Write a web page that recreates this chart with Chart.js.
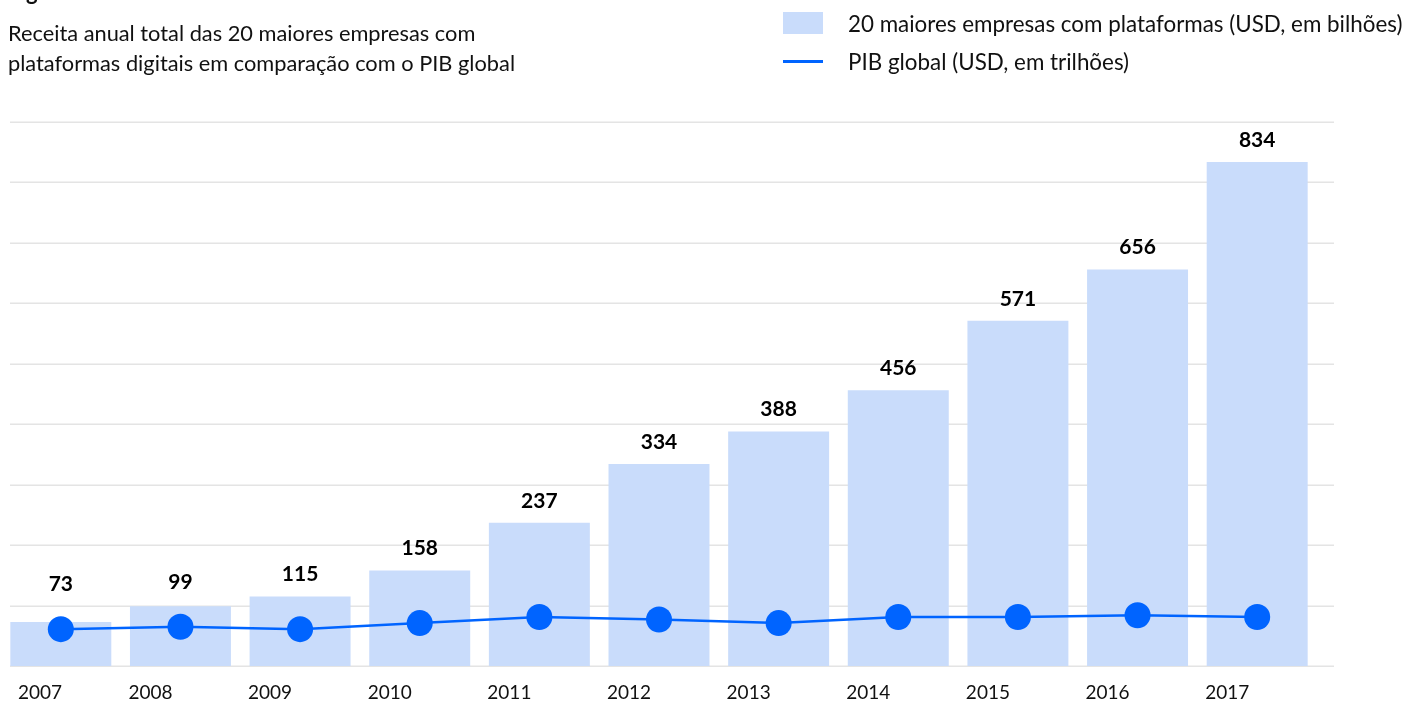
<!DOCTYPE html>
<html lang="pt">
<head>
<meta charset="utf-8">
<title>Receita das 20 maiores empresas com plataformas digitais vs PIB global</title>
<script src="https://cdn.jsdelivr.net/npm/chart.js@4.4.1/dist/chart.umd.min.js"></script>
<style>
  html, body { margin: 0; padding: 0; background: #fff; }
  body { width: 1423px; height: 702px; position: relative; overflow: hidden; font-family: Lato, "Open Sans", sans-serif; color: #111; }
  #wrap { position: absolute; left: 0; top: 0; width: 1423px; height: 702px; }
  #fig { position: absolute; left: 8px; top: -20px; font-weight: bold; font-size: 22px; line-height: 24px; white-space: nowrap; }
  #sub { position: absolute; left: 8px; top: 18px; font-size: 21.8px; line-height: 30px; white-space: nowrap; }
  #legend { position: absolute; left: 783px; top: 4px; font-size: 22.4px; }
  .li { display: flex; align-items: center; height: 38px; white-space: nowrap; }
  .sw { width: 40px; margin-right: 25px; }
</style>
</head>
<body>
<div id="wrap"><canvas id="c" width="1423" height="702"></canvas></div>
<div id="fig">Figura 1</div>
<div id="sub">Receita anual total das 20 maiores empresas com<br>plataformas digitais em comparação com o PIB global</div>
<div id="legend"></div>
<script>
// Years on the horizontal axis
const years = ['2007','2008','2009','2010','2011','2012','2013','2014','2015','2016','2017'];
// Total annual revenue of the 20 largest platform companies (USD billions)
const platformRevenue = [73, 99, 115, 158, 237, 334, 388, 456, 571, 656, 834];
// Global GDP (USD trillions)
const globalGdp = [61, 65, 61, 71, 81, 77, 71, 81, 81, 84, 81];
// Value axis range and grid step
const yMax = 900;
const yStep = 100;

const seriesNames = ['20 maiores empresas com plataformas (USD, em bilhões)', 'PIB global (USD, em trilhões)'];
const barColor = '#c9dcfb';
const lineColor = '#0064ff';
const markerRadius = 13;
const fontFamily = 'Lato, "Open Sans", sans-serif';

// Legend rows
const legend = document.getElementById('legend');
seriesNames.forEach((name, i) => {
  const row = document.createElement('div');
  row.className = 'li';
  const sw = document.createElement('div');
  sw.className = 'sw';
  if (i === 0) { sw.style.height = '22px'; sw.style.background = barColor; }
  else { sw.style.height = '3px'; sw.style.background = lineColor; }
  const tx = document.createElement('span');
  tx.textContent = name;
  row.appendChild(sw); row.appendChild(tx);
  legend.appendChild(row);
});

// Horizontal grid lines, drawn under the bars and extending a little past the plot
const gridPlugin = {
  id: 'softGrid',
  beforeDatasetsDraw(chart) {
    const { ctx, chartArea, scales } = chart;
    const y = scales.y;
    ctx.save();
    ctx.strokeStyle = '#e4e4e4';
    ctx.lineWidth = 1.6;
    for (let v = 0; v <= yMax; v += yStep) {
      const py = Math.round(y.getPixelForValue(v)) + 0.2;
      ctx.beginPath();
      ctx.moveTo(chartArea.left + 9, py);
      ctx.lineTo(chartArea.right + 17, py);
      ctx.stroke();
    }
    ctx.restore();
  }
};

// Bold value labels above each bar, lifted clear of the GDP marker when needed
const valueLabels = {
  id: 'valueLabels',
  afterDatasetsDraw(chart) {
    const { ctx } = chart;
    const lineIdx = chart.data.datasets.findIndex(d => d.type === 'line');
    const barIdx = chart.data.datasets.findIndex(d => d.type === 'bar');
    const bars = chart.getDatasetMeta(barIdx).data;
    const pts = chart.getDatasetMeta(lineIdx).data;
    ctx.save();
    ctx.font = 'bold 21px ' + fontFamily;
    ctx.fillStyle = '#000';
    ctx.textAlign = 'center';
    ctx.textBaseline = 'alphabetic';
    bars.forEach((bar, i) => {
      const markerTop = pts[i].y - markerRadius;
      const base = Math.min(bar.y, markerTop - 10) - 15;
      ctx.fillText(String(platformRevenue[i]), bar.x, base);
    });
    ctx.restore();
  }
};

// Year labels under the axis, set slightly left of each bar centre
const yearLabels = {
  id: 'yearLabels',
  afterDraw(chart) {
    const { ctx, scales, chartArea } = chart;
    const x = scales.x;
    ctx.save();
    ctx.font = '19px ' + fontFamily;
    ctx.fillStyle = '#111';
    ctx.textAlign = 'center';
    ctx.textBaseline = 'middle';
    years.forEach((yr, i) => {
      const w = ctx.measureText(yr).width;
      const cx = Math.max(x.getPixelForValue(i) - 30, 18 + w / 2);
      ctx.fillText(yr, cx, chartArea.bottom + 27);
    });
    ctx.restore();
  }
};

new Chart(document.getElementById('c'), {
  data: {
    labels: years,
    datasets: [
      {
        type: 'line',
        label: seriesNames[1],
        data: globalGdp,
        borderColor: lineColor,
        backgroundColor: lineColor,
        borderWidth: 2.5,
        pointRadius: markerRadius,
        pointHoverRadius: markerRadius,
        pointBorderWidth: 0,
        pointBackgroundColor: lineColor,
        tension: 0,
        order: 0
      },
      {
        type: 'bar',
        label: seriesNames[0],
        data: platformRevenue,
        backgroundColor: barColor,
        borderWidth: 0,
        categoryPercentage: 1,
        barPercentage: 0.844,
        order: 1
      }
    ]
  },
  options: {
    responsive: false,
    animation: false,
    events: [],
    layout: { autoPadding: false, padding: { left: 1, right: 106, top: 122, bottom: 36 } },
    plugins: { legend: { display: false }, tooltip: { enabled: false }, title: { display: false } },
    scales: {
      x: {
        type: 'category',
        display: false,
        offset: true,
        grid: { display: false }
      },
      y: {
        type: 'linear',
        display: false,
        min: 0,
        max: yMax,
        grid: { display: false },
        ticks: { stepSize: yStep }
      }
    }
  },
  plugins: [gridPlugin, valueLabels, yearLabels]
});
</script>
</body>
</html>
